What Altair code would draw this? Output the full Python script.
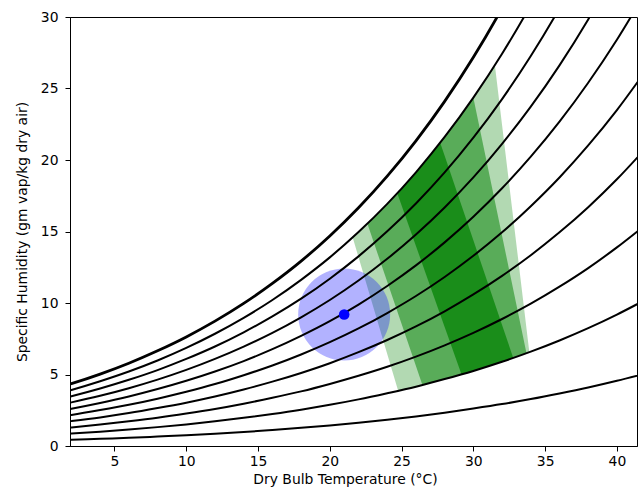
import altair as alt
import pandas as pd

# Dry-bulb temperatures (°C) at which the relative-humidity curves are sampled
temps = [0, 2, 4, 6, 8, 10, 12, 14, 16, 18, 20, 22, 24, 26, 28, 30, 32, 34, 36, 38, 40, 42]

# Specific humidity (g vap / kg dry air) along each relative-humidity curve
rh_10 = [0.38, 0.43, 0.50, 0.57, 0.66, 0.75, 0.86, 0.98, 1.12, 1.27, 1.44, 1.63, 1.84, 2.07, 2.33, 2.62, 2.93, 3.28, 3.67, 4.09, 4.56, 5.07]
rh_20 = [0.75, 0.87, 1.00, 1.15, 1.32, 1.51, 1.73, 1.97, 2.24, 2.54, 2.88, 3.26, 3.69, 4.15, 4.68, 5.25, 5.89, 6.60, 7.38, 8.24, 9.19, 10.23]
rh_30 = [1.13, 1.30, 1.50, 1.73, 1.98, 2.27, 2.59, 2.96, 3.37, 3.82, 4.34, 4.91, 5.54, 6.25, 7.04, 7.91, 8.88, 9.95, 11.14, 12.44, 13.89, 15.47]
rh_40 = [1.50, 1.74, 2.00, 2.30, 2.65, 3.03, 3.46, 3.95, 4.50, 5.11, 5.79, 6.56, 7.41, 8.36, 9.42, 10.60, 11.90, 13.34, 14.94, 16.70, 18.65, 20.81]
rh_50 = [1.88, 2.17, 2.51, 2.88, 3.31, 3.79, 4.33, 4.95, 5.63, 6.40, 7.26, 8.22, 9.30, 10.49, 11.82, 13.30, 14.94, 16.77, 18.78, 21.02, 23.49, 26.23]
rh_60 = [2.26, 2.61, 3.01, 3.46, 3.98, 4.56, 5.21, 5.94, 6.77, 7.70, 8.73, 9.89, 11.19, 12.63, 14.24, 16.03, 18.02, 20.23, 22.68, 25.40, 28.41, 31.74]
rh_70 = [2.64, 3.05, 3.51, 4.04, 4.64, 5.32, 6.09, 6.95, 7.91, 9.00, 10.21, 11.57, 13.09, 14.79, 16.68, 18.78, 21.13, 23.73, 26.62, 29.83, 33.39, 37.35]
rh_80 = [3.01, 3.48, 4.02, 4.63, 5.31, 6.09, 6.96, 7.95, 9.06, 10.30, 11.70, 13.26, 15.01, 16.96, 19.13, 21.56, 24.26, 27.27, 30.61, 34.33, 38.46, 43.05]
rh_90 = [3.39, 3.92, 4.53, 5.21, 5.98, 6.86, 7.85, 8.96, 10.21, 11.62, 13.19, 14.96, 16.93, 19.14, 21.61, 24.36, 27.43, 30.84, 34.65, 38.89, 43.60, 48.85]
rh_100 = [3.77, 4.36, 5.03, 5.79, 6.66, 7.63, 8.73, 9.97, 11.37, 12.93, 14.69, 16.66, 18.87, 21.34, 24.10, 27.18, 30.62, 34.46, 38.74, 43.51, 48.83, 54.76]

rh_levels = [10, 20, 30, 40, 50, 60, 70, 80, 90]
rh_curves = [rh_10, rh_20, rh_30, rh_40, rh_50, rh_60, rh_70, rh_80, rh_90]

# Comfort zones (outer, middle, inner): temperature, lower and upper humidity bound
outer_T = [21.59, 22.0, 24.0, 24.76, 26.0, 28.0, 30.0, 31.5, 32.0, 33.9]
outer_low = [14.59, 13.20, 6.43, 3.86, 4.15, 4.68, 5.25, 5.72, 5.89, 6.56]
outer_high = [14.59, 14.96, 16.93, 17.74, 19.14, 21.61, 24.36, 26.63, 22.45, 6.56]

middle_T = [22.62, 24.0, 26.0, 26.45, 28.0, 30.0, 32.0, 33.7]
middle_low = [15.54, 11.48, 5.59, 4.26, 4.68, 5.25, 5.89, 6.49]
middle_high = [15.54, 16.93, 19.14, 19.67, 21.61, 24.36, 14.70, 6.49]

inner_T = [24.7, 26.0, 27.69, 28.0, 29.17, 30.0, 32.0, 32.78]
inner_low = [17.67, 13.99, 9.20, 8.32, 5.01, 5.25, 5.89, 6.16]
inner_high = [17.67, 19.14, 21.21, 20.29, 16.83, 14.38, 8.47, 6.16]

# Indoor state point
point_T = [21.0]
point_w = [9.2]

x_scale = alt.Scale(domain=[1.9, 41.4], nice=False, zero=False)
y_scale = alt.Scale(domain=[0, 30], nice=False, zero=True)
x_axis = alt.Axis(values=[5, 10, 15, 20, 25, 30, 35, 40], title="Dry Bulb Temperature (°C)",
                  labelPadding=3, titlePadding=5, titleX=275)
y_axis = alt.Axis(values=[0, 5, 10, 15, 20, 25, 30], title="Specific Humidity (gm vap/kg dry air)",
                  labelPadding=7, titlePadding=11)

lines_rows = []
for lvl, curve in zip(rh_levels, rh_curves):
    for t, w in zip(temps, curve):
        lines_rows.append({"T": t, "w": w, "rh": lvl})
lines_df = pd.DataFrame(lines_rows)
sat_df = pd.DataFrame({"T": temps, "w": rh_100})


def zone(ts, lo, hi, op):
    df = pd.DataFrame({"T": ts, "low": lo, "high": hi})
    return alt.Chart(df).mark_area(color="green", opacity=op, clip=True).encode(
        x=alt.X("T:Q", scale=x_scale, axis=x_axis),
        y=alt.Y("low:Q", scale=y_scale, axis=y_axis),
        y2="high:Q",
    )


outer = zone(outer_T, outer_low, outer_high, 0.3)
middle = zone(middle_T, middle_low, middle_high, 0.5)
inner = zone(inner_T, inner_low, inner_high, 0.7)

pt_df = pd.DataFrame({"T": point_T, "w": point_w})
halo = alt.Chart(pt_df).mark_circle(color="blue", opacity=0.3, size=8460, clip=True).encode(
    x=alt.X("T:Q", scale=x_scale, axis=x_axis),
    y=alt.Y("w:Q", scale=y_scale, axis=y_axis),
)

rh_lines = alt.Chart(lines_df).mark_line(color="black", strokeWidth=2, clip=True,
                                         interpolate="monotone").encode(
    x=alt.X("T:Q", scale=x_scale, axis=x_axis),
    y=alt.Y("w:Q", scale=y_scale, axis=y_axis),
    detail="rh:N",
)
sat_line = alt.Chart(sat_df).mark_line(color="black", strokeWidth=2.8, clip=True,
                                       interpolate="monotone").encode(
    x=alt.X("T:Q", scale=x_scale, axis=x_axis),
    y=alt.Y("w:Q", scale=y_scale, axis=y_axis),
)

dot = alt.Chart(pt_df).mark_circle(color="blue", opacity=1, size=112, clip=True).encode(
    x=alt.X("T:Q", scale=x_scale, axis=x_axis),
    y=alt.Y("w:Q", scale=y_scale, axis=y_axis),
)

chart = alt.layer(outer, middle, inner, halo, rh_lines, sat_line, dot).properties(
    width=567, height=429,
    padding={"left": 70, "top": 17, "right": 1, "bottom": 49},
    autosize=alt.AutoSizeParams(type="none"),
    background="white",
).configure_axis(
    labelFont="DejaVu Sans", titleFont="DejaVu Sans",
    labelFontSize=13.9, titleFontSize=13.9, titleFontWeight="normal",
    labelColor="black", titleColor="black",
    tickColor="black", domainColor="black", tickSize=5, tickWidth=1, domainWidth=1,
    grid=False,
).configure_view(stroke="black", strokeWidth=1)

chart.save("out.html", embed_options={"renderer": "svg", "actions": False})
